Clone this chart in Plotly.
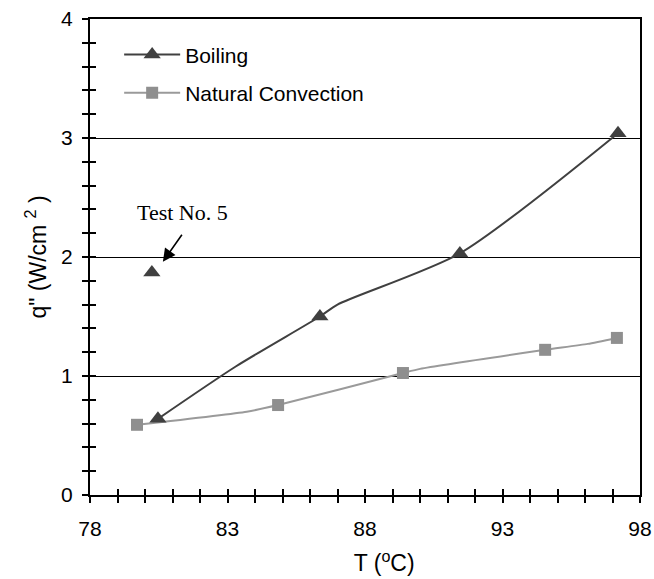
import plotly.graph_objects as go

# Boiling series: markers (measured points) and line path
boil_mark_x = [80.47, 86.36, 91.45, 97.2]
boil_mark_y = [0.64, 1.50, 2.03, 3.04]
boil_line_x = [80.47, 83.3, 86.36, 87.0, 91.45, 97.2]
boil_line_y = [0.64, 1.08, 1.50, 1.60, 2.03, 3.04]

# Isolated test point
test5_x = [80.25]
test5_y = [1.87]

# Natural convection series
nc_mark_x = [79.71, 84.84, 89.38, 94.55, 97.16]
nc_mark_y = [0.59, 0.756, 1.025, 1.22, 1.32]
nc_line_x = [79.71, 83.7, 84.84, 89.38, 90.0, 94.55, 96.1, 97.16]
nc_line_y = [0.59, 0.70, 0.756, 1.025, 1.06, 1.22, 1.27, 1.32]

x_range = [78, 98]
y_range = [0, 4]
x_tickvals = [78, 83, 88, 93, 98]
y_tickvals = [0, 1, 2, 3, 4]

BOIL = "#404040"
NC_LINE = "#9a9a9a"
NC_MARK = "#8f8f8f"
FONT = "Liberation Sans, Arial, sans-serif"

fig = go.Figure()

# lines (no legend)
fig.add_trace(go.Scatter(x=boil_line_x, y=boil_line_y, mode="lines",
                         line=dict(color=BOIL, width=2, shape="spline", smoothing=0.7),
                         showlegend=False, hoverinfo="skip"))
fig.add_trace(go.Scatter(x=nc_line_x, y=nc_line_y, mode="lines",
                         line=dict(color=NC_LINE, width=2, shape="spline", smoothing=0.5),
                         showlegend=False, hoverinfo="skip"))
# markers
fig.add_trace(go.Scatter(x=boil_mark_x, y=boil_mark_y, mode="markers",
                         marker=dict(symbol="triangle-up", size=15, color=BOIL),
                         showlegend=False))
fig.add_trace(go.Scatter(x=test5_x, y=test5_y, mode="markers",
                         marker=dict(symbol="triangle-up", size=15, color=BOIL),
                         showlegend=False))
fig.add_trace(go.Scatter(x=nc_mark_x, y=nc_mark_y, mode="markers",
                         marker=dict(symbol="square", size=12, color=NC_MARK),
                         showlegend=False))
# legend entries
fig.add_trace(go.Scatter(x=[None], y=[None], mode="lines+markers", name="Boiling",
                         legendgroup="b",
                         line=dict(color=BOIL, width=2),
                         marker=dict(symbol="triangle-up", size=15, color=BOIL)))
fig.add_trace(go.Scatter(x=[None], y=[None], mode="lines+markers", name="Natural Convection",
                         legendgroup="n",
                         line=dict(color=NC_LINE, width=2),
                         marker=dict(symbol="square", size=12, color=NC_MARK)))
# invisible traces on overlay axes (so the inside ticks get drawn)
fig.add_trace(go.Scatter(x=[x_range[0]], y=[y_range[0]], xaxis="x2", yaxis="y",
                         mode="markers", marker=dict(opacity=0, size=1),
                         showlegend=False, hoverinfo="skip"))
fig.add_trace(go.Scatter(x=[x_range[0]], y=[y_range[0]], xaxis="x", yaxis="y2",
                         mode="markers", marker=dict(opacity=0, size=1),
                         showlegend=False, hoverinfo="skip"))

fig.add_annotation(x=81.38, y=2.37, xref="x", yref="y", text="Test No. 5",
                   showarrow=False, font=dict(family="Liberation Serif, Times New Roman, serif",
                                              size=22, color="black"))
fig.add_annotation(x=80.65, y=1.96, ax=81.38, ay=2.20, xref="x", yref="y",
                   axref="x", ayref="y", text="", showarrow=True,
                   arrowhead=2, arrowsize=1.6, arrowwidth=1.6, arrowcolor="black")

common_x = dict(range=x_range, tickvals=x_tickvals, showgrid=False, zeroline=False,
                ticklen=6, tickwidth=1.5, tickcolor="black", automargin=False,
                minor=dict(dtick=1, tick0=78, ticklen=6, tickwidth=1.5, tickcolor="black"))
common_y = dict(range=y_range, tickvals=y_tickvals, zeroline=False,
                ticklen=6, tickwidth=1.5, tickcolor="black", automargin=False,
                minor=dict(dtick=0.2, tick0=0, ticklen=6, tickwidth=1.5, tickcolor="black"))

fig.update_layout(
    width=654, height=579,
    margin=dict(l=90, r=14, t=19, b=84),
    paper_bgcolor="white", plot_bgcolor="white",
    font=dict(family=FONT, size=21, color="black"),
    xaxis=dict(**common_x, ticks="outside", minor_ticks="outside",
               showline=True, linecolor="black", linewidth=2, mirror=True,
               ticklabelstandoff=8,
               title=dict(text="&nbsp;&nbsp;&nbsp;&nbsp;&nbsp;&nbsp;T (<sup>o</sup>C)",
                          font=dict(size=23), standoff=16)),
    yaxis=dict(**common_y, ticks="outside", minor_ticks="outside",
               showgrid=True, gridcolor="black", gridwidth=1.3,
               showline=True, linecolor="black", linewidth=2, mirror=True,
               ticklabelstandoff=5,
               title=dict(text="q\" (W/cm&nbsp;<sup>2</sup>&nbsp;)",
                          font=dict(size=23), standoff=8)),
    xaxis2=dict(**common_x, overlaying="x", anchor="y", side="bottom",
                ticks="inside", minor_ticks="inside", showticklabels=False, showline=False),
    yaxis2=dict(**common_y, overlaying="y", anchor="x", side="left",
                ticks="inside", minor_ticks="inside", showticklabels=False, showgrid=False,
                showline=False),
    legend=dict(x=0.053, y=0.968, xanchor="left", yanchor="top",
                bgcolor="rgba(0,0,0,0)", font=dict(size=21),
                itemwidth=56,
                tracegroupgap=8, traceorder="grouped"),
    showlegend=True,
)

fig.write_html("out.html", config={"displayModeBar": False},
               post_script="document.body.style.margin='0';")
